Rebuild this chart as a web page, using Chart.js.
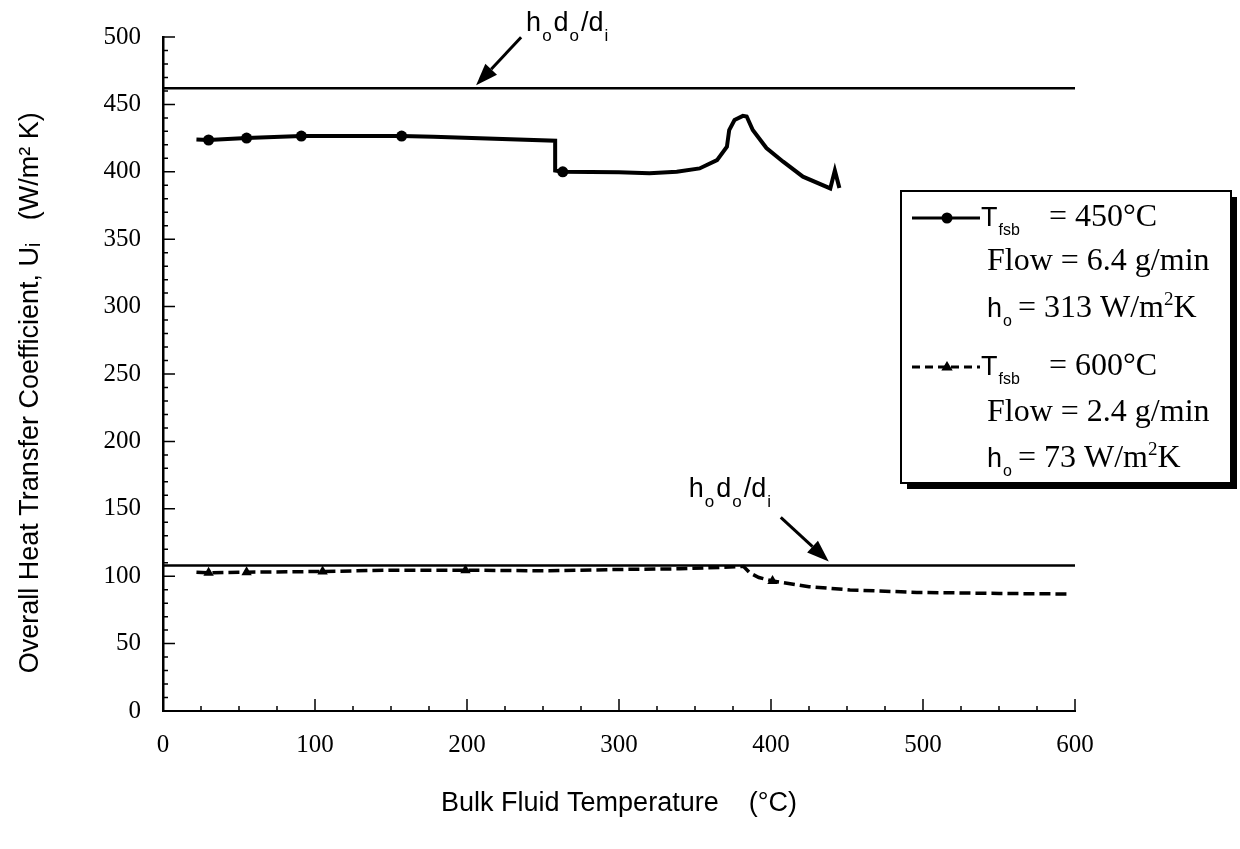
<!DOCTYPE html>
<html>
<head>
<meta charset="utf-8">
<script src="https://cdn.jsdelivr.net/npm/chart.js@4.4.1/dist/chart.umd.min.js"></script>
<style>
  html, body { margin: 0; padding: 0; background: #fff; }
</style>
</head>
<body>
<canvas id="chart" width="1240" height="849"></canvas>
<script>
// T_fsb = 450°C run: bulk fluid temperature (°C) vs overall U_i (W/m2K)
const hotTemp  = [22, 30, 55, 91, 157, 178, 258, 258, 263, 300, 320, 338, 353, 364.5, 371, 372.5, 376, 381.5, 384, 388, 397, 408, 421, 439, 442, 445];
const hotU     = [424, 423.6, 425, 426.5, 426.5, 426, 423, 401, 400, 399.6, 399, 400, 402.5, 408.7, 418.6, 431, 438.4, 441.5, 441, 431, 417.6, 407.5, 396.4, 387.7, 401, 388];
const hotMarks = [30, 55, 91, 157, 263];

// T_fsb = 600°C run
const coolTemp  = [22, 30, 55, 105, 150, 199, 254, 300, 340, 373, 382, 386, 392, 401, 425, 452, 496, 550, 595];
const coolU     = [103, 102.5, 103, 103.5, 104.5, 104.5, 104, 105, 105.5, 106.8, 107.2, 102.5, 99, 96.5, 92.2, 89.8, 88, 87.2, 86.8];
const coolMarks = [30, 55, 105, 199, 401];

// h_o d_o / d_i limits for each run
const hotLimit  = 462;
const coolLimit = 108;

const xRange = [0, 600];
const yRange = [0, 500];

const SERIF = "'Liberation Serif', 'Times New Roman', serif";
const SANS  = "'Liberation Sans', Arial, sans-serif";

const toPoints = (xs, ys) => xs.map((x, i) => ({ x: x, y: ys[i] }));

// small tick marks pointing into the plot
const inwardTicks = {
  id: 'inwardTicks',
  afterDraw(chart) {
    const { ctx, scales: { x, y } } = chart;
    ctx.save();
    ctx.strokeStyle = '#000';
    ctx.lineWidth = 1.5;
    ctx.beginPath();
    for (let v = 25; v <= xRange[1]; v += 25) {
      const px = x.getPixelForValue(v);
      const len = v % 100 === 0 ? 12 : 5;
      ctx.moveTo(px, y.bottom);
      ctx.lineTo(px, y.bottom - len);
    }
    for (let v = 10; v <= yRange[1]; v += 10) {
      const py = y.getPixelForValue(v);
      const len = v % 50 === 0 ? 12 : 5;
      ctx.moveTo(x.left, py);
      ctx.lineTo(x.left + len, py);
    }
    ctx.stroke();
    ctx.restore();
  }
};

// draws a run of text pieces: [text, font, baseline shift, extra gap after]
function richText(ctx, x, y, parts) {
  let cx = x;
  for (const [text, font, dy, gap] of parts) {
    ctx.font = font;
    ctx.fillText(text, cx, y + dy);
    cx += ctx.measureText(text).width + (gap || 0);
  }
  return cx;
}

function hodoLabel(ctx, x, y) {
  const f = '27px ' + SANS, s = '17px ' + SANS;
  richText(ctx, x, y, [
    ['h', f, 0, 1], ['o', s, 10, 2],
    ['d', f, 0, 1], ['o', s, 10, 2],
    ['/d', f, 0, 1], ['i', s, 10, 0]
  ]);
}

function arrow(ctx, x0, y0, x1, y1) {
  const ang = Math.atan2(y1 - y0, x1 - x0);
  const head = 22, half = 8;
  const bx = x1 - head * Math.cos(ang), by = y1 - head * Math.sin(ang);
  ctx.beginPath();
  ctx.moveTo(x0, y0);
  ctx.lineTo(bx, by);
  ctx.stroke();
  ctx.beginPath();
  ctx.moveTo(x1, y1);
  ctx.lineTo(bx + half * Math.sin(ang), by - half * Math.cos(ang));
  ctx.lineTo(bx - half * Math.sin(ang), by + half * Math.cos(ang));
  ctx.closePath();
  ctx.fill();
}

function marker(ctx, style, x, y, r) {
  ctx.beginPath();
  if (style === 'triangle') {
    ctx.moveTo(x, y - r);
    ctx.lineTo(x + r * 0.95, y + r * 0.6);
    ctx.lineTo(x - r * 0.95, y + r * 0.6);
    ctx.closePath();
  } else {
    ctx.arc(x, y, r, 0, Math.PI * 2);
  }
  ctx.fill();
}

// limit-line arrows and the boxed legend
const notes = {
  id: 'notes',
  afterDraw(chart) {
    const { ctx, scales: { x, y } } = chart;
    ctx.save();
    ctx.fillStyle = '#000';
    ctx.strokeStyle = '#000';
    ctx.lineWidth = 3;
    ctx.textBaseline = 'alphabetic';

    const t1x = x.getPixelForValue(206), t1y = y.getPixelForValue(hotLimit) - 3;
    arrow(ctx, t1x + 45, t1y - 48, t1x, t1y);
    hodoLabel(ctx, t1x + 50, t1y - 54);

    const t2x = x.getPixelForValue(438), t2y = y.getPixelForValue(coolLimit) - 4;
    arrow(ctx, t2x - 48, t2y - 44, t2x, t2y);
    hodoLabel(ctx, t2x - 140, t2y - 64);

    // legend box with drop shadow
    const bx = 901, by = 191, bw = 330, bh = 292;
    ctx.fillRect(bx + 6, by + 6, bw, bh);
    ctx.fillStyle = '#fff';
    ctx.fillRect(bx, by, bw, bh);
    ctx.fillStyle = '#000';
    ctx.lineWidth = 2;
    ctx.strokeRect(bx, by, bw, bh);

    const big = '32px ' + SERIF, sup = '19px ' + SERIF;
    const sans = '27px ' + SANS, sub = '16px ' + SANS;

    // sample lines
    ctx.lineWidth = 3;
    ctx.beginPath(); ctx.moveTo(912, 218); ctx.lineTo(980, 218); ctx.stroke();
    marker(ctx, 'circle', 947, 218, 5.5);
    ctx.setLineDash([8, 5]);
    ctx.beginPath(); ctx.moveTo(912, 367); ctx.lineTo(980, 367); ctx.stroke();
    ctx.setLineDash([]);
    marker(ctx, 'triangle', 947, 367, 6);

    richText(ctx, 981, 226, [['T', sans, 0, 1], ['fsb', sub, 9, 0]]);
    richText(ctx, 1049, 226, [['= 450°C', big, 0, 0]]);
    richText(ctx, 987, 270, [['Flow = 6.4 g/min', big, 0, 0]]);
    richText(ctx, 987, 317, [['h', sans, 0, 1], ['o', sub, 9, 6], ['= 313 W/m', big, 0, 0], ['2', sup, -12, 0], ['K', big, 0, 0]]);

    richText(ctx, 981, 375, [['T', sans, 0, 1], ['fsb', sub, 9, 0]]);
    richText(ctx, 1049, 375, [['= 600°C', big, 0, 0]]);
    richText(ctx, 987, 421, [['Flow = 2.4 g/min', big, 0, 0]]);
    richText(ctx, 987, 467, [['h', sans, 0, 1], ['o', sub, 9, 6], ['= 73 W/m', big, 0, 0], ['2', sup, -12, 0], ['K', big, 0, 0]]);

    ctx.restore();
  }
};

new Chart(document.getElementById('chart'), {
  type: 'line',
  data: {
    datasets: [
      {
        label: 'T_fsb = 450°C',
        data: toPoints(hotTemp, hotU),
        borderColor: '#000',
        backgroundColor: '#000',
        borderWidth: 4,
        pointStyle: 'circle',
        pointRadius: c => hotMarks.includes(c.raw.x) ? 5.5 : 0,
        pointBorderWidth: 0,
        tension: 0
      },
      {
        label: 'T_fsb = 600°C',
        data: toPoints(coolTemp, coolU),
        borderColor: '#000',
        backgroundColor: '#000',
        borderWidth: 3.5,
        borderDash: [11, 5],
        pointStyle: 'triangle',
        pointRadius: c => coolMarks.includes(c.raw.x) ? 6 : 0,
        pointBorderWidth: 0,
        tension: 0
      },
      {
        label: 'limit 450',
        data: [{ x: xRange[0], y: hotLimit }, { x: xRange[1], y: hotLimit }],
        borderColor: '#000',
        borderWidth: 2.5,
        pointRadius: 0
      },
      {
        label: 'limit 600',
        data: [{ x: xRange[0], y: coolLimit }, { x: xRange[1], y: coolLimit }],
        borderColor: '#000',
        borderWidth: 2.5,
        pointRadius: 0
      }
    ]
  },
  options: {
    responsive: false,
    animation: false,
    devicePixelRatio: 1,
    events: [],
    layout: { padding: { top: 37, right: 165, left: 0, bottom: 0 } },
    plugins: { legend: { display: false }, tooltip: { enabled: false } },
    scales: {
      x: {
        type: 'linear',
        min: xRange[0],
        max: xRange[1],
        grid: { display: false, drawTicks: false },
        border: { display: true, color: '#000', width: 2 },
        ticks: { stepSize: 100, color: '#000', padding: 19, font: { family: SERIF, size: 25 } },
        title: {
          display: true,
          text: 'Bulk Fluid Temperature    (°C)',
          color: '#000',
          font: { family: SANS, size: 27 },
          padding: { bottom: 29 }
        },
        afterFit: s => { s.height = 138; }
      },
      y: {
        min: yRange[0],
        max: yRange[1],
        grid: { display: false, drawTicks: false },
        border: { display: true, color: '#000', width: 2.5 },
        ticks: { stepSize: 50, color: '#000', padding: 22, font: { family: SERIF, size: 25 } },
        title: {
          display: true,
          text: 'Overall Heat Transfer Coefficient, U\u1d62   (W/m\u00b2 K)     ',
          color: '#000',
          font: { family: SANS, size: 27 },
          padding: { top: 14 }
        },
        afterFit: s => { s.width = 163; }
      }
    }
  },
  plugins: [inwardTicks, notes]
});
</script>
</body>
</html>
